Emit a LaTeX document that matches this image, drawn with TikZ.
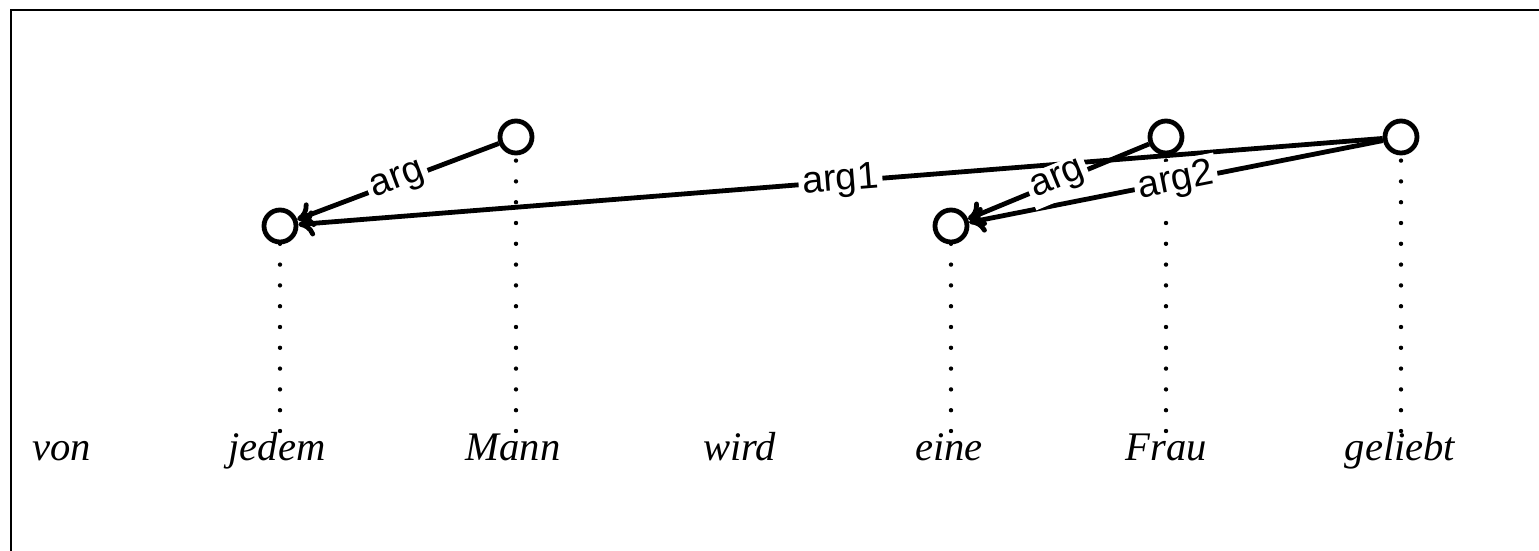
\documentclass[tikz,border=0pt]{standalone}
\usepackage{fontspec}
\setmainfont{Liberation Serif}
\setsansfont{Liberation Sans}
\usetikzlibrary{arrows.meta}
\begin{document}
\begin{tikzpicture}[x=0.5pt,y=-0.5pt,
  frame/.style={line width=1.4pt},
  wordnode/.style={anchor=base,inner sep=0pt,font=\fontsize{20.3}{24}\selectfont\itshape},
  circnode/.style={circle,draw,line width=2.4pt,fill=white,minimum size=16pt,inner sep=0pt},
  dotline/.style={line width=2.2pt,line cap=round,dash pattern=on 0pt off 10.4pt},
  edge/.style={line width=2.4pt,-{To[length=8pt,width=13pt]}},
  lab/.style={sloped,fill=white,inner sep=2pt,font=\sffamily\fontsize{19}{21}\selectfont}]
\useasboundingbox (0,0) rectangle (1539,551);
\draw[frame] (11,551) -- (11,10) -- (1539,10);
% words
\node[wordnode] (w-von) at (61.5,460) {von};
\node[wordnode] (w-jedem) at (277,460) {jedem};
\node[wordnode] (w-mann) at (513,460) {Mann};
\node[wordnode] (w-wird) at (739.5,460) {wird};
\node[wordnode] (w-eine) at (949,460) {eine};
\node[wordnode] (w-frau) at (1166,460) {Frau};
\node[wordnode] (w-geliebt) at (1400,460) {geliebt};
% feet of dotted lines
\coordinate (f-jedem) at (280,431);
\coordinate (f-mann) at (516,431);
\coordinate (f-eine) at (951,431);
\coordinate (f-frau) at (1166,431);
\coordinate (f-geliebt) at (1401,431);
\path (280,226) coordinate (p-jedem)
      (516,137) coordinate (p-mann)
      (951,226) coordinate (p-eine)
      (1166,137) coordinate (p-frau)
      (1401,137) coordinate (p-geliebt);
\foreach \n in {jedem,mann,eine,frau,geliebt}{
  \draw[dotline] (f-\n) -- (p-\n);
}
\node[circnode] (c-jedem) at (p-jedem) {};
\node[circnode] (c-mann) at (p-mann) {};
\node[circnode] (c-eine) at (p-eine) {};
\node[circnode] (c-frau) at (p-frau) {};
\node[circnode] (c-geliebt) at (p-geliebt) {};
% edges
\draw[edge] (c-mann) -- node[lab]{arg} (c-jedem);
\draw[edge] (c-geliebt) -- node[lab]{arg1} (c-jedem);
\draw[edge] (c-geliebt) -- node[lab]{arg2} (c-eine);
\draw[edge] (c-frau) -- node[lab]{arg} (c-eine);
\end{tikzpicture}
\end{document}
